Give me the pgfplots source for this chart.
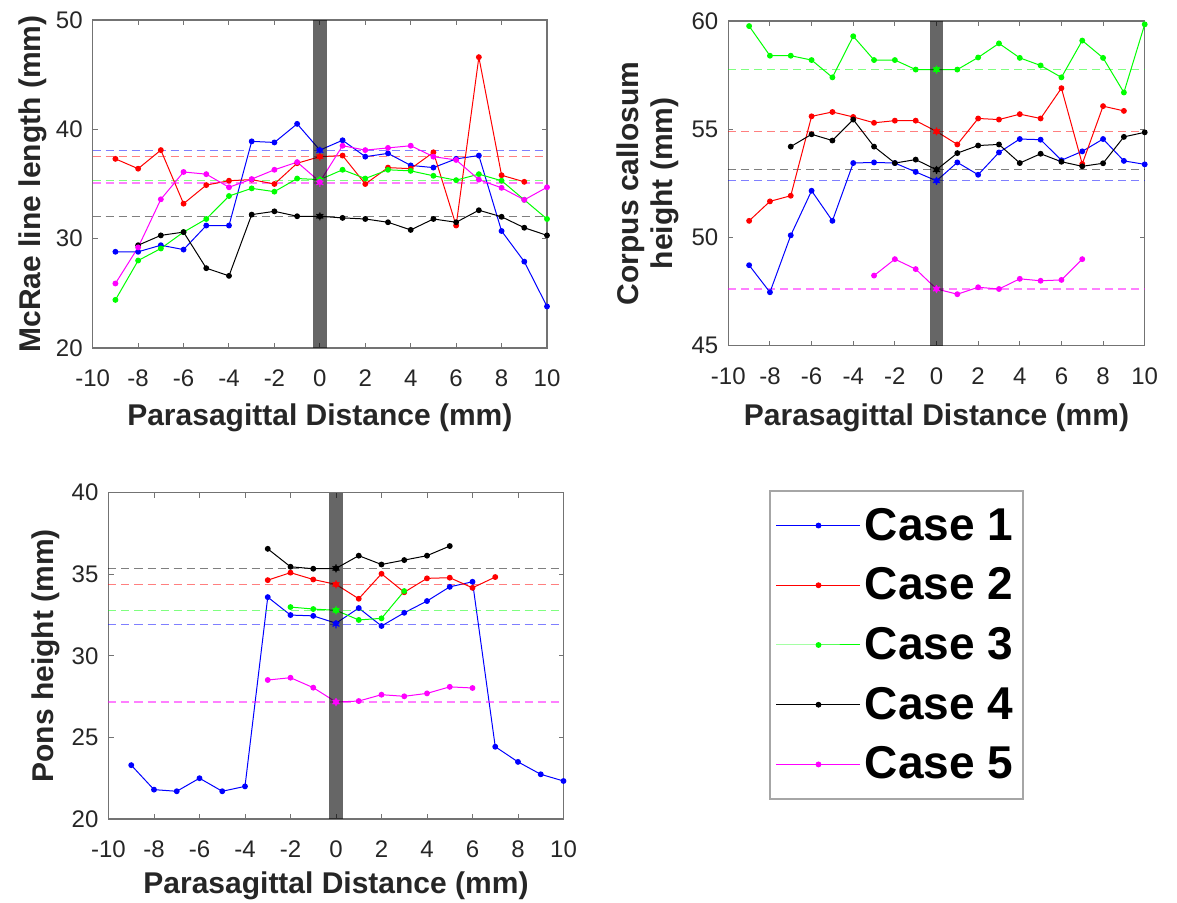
\documentclass[border=0pt]{standalone}
\usepackage{pgfplots}
\pgfplotsset{compat=1.18}
\usepackage{fontspec}
\setmainfont{Liberation Sans}
\definecolor{axgray}{gray}{0.45}
\definecolor{txt}{gray}{0.15}
\definecolor{cgreen}{rgb}{0,1,0}
\definecolor{cblue}{rgb}{0,0,1}
\definecolor{cred}{rgb}{1,0,0}
\definecolor{cmag}{rgb}{1,0,1}
\pgfplotsset{
  myax/.style={
    scale only axis,
    xmin=-10, xmax=10,
    xtick={-10,-8,...,10},
    tick align=inside,
    major tick length=2.5pt,
    axis line style={axgray, line width=0.6pt},
    tick style={axgray, line width=0.5pt},
    ticklabel style={font=\fontsize{12}{14}\selectfont, text=txt},
    /pgf/number format/assume math mode=true,
    xticklabel style={yshift=-7.5pt},
    yticklabel style={xshift=-1.5pt},
    label style={font=\fontsize{15}{17}\selectfont\bfseries, text=txt},
    xlabel={Parasagittal Distance (mm)},
    clip=false,
  },
  c1/.style={cblue, line width=0.5pt, mark=*, mark size=1.2pt},
  c2/.style={cred, line width=0.5pt, mark=*, mark size=1.2pt},
  c3/.style={cgreen, line width=0.5pt, mark=*, mark size=1.2pt},
  c4/.style={black, line width=0.5pt, mark=*, mark size=1.2pt},
  c5/.style={cmag, line width=0.5pt, mark=*, mark size=1.2pt},
  refl/.style={#1, draw opacity=0.5, dash pattern=on 4pt off 2.5pt, line width=0.6pt, forget plot, mark=asterisk, mark indices={2}, mark size=2pt, mark options={solid, draw opacity=1}},
  band/.style={fill=black, fill opacity=0.6, draw=none, forget plot},
}
\begin{document}
\begin{tikzpicture}
\path[use as bounding box] (0,0) rectangle (588.5pt,-451.5pt);

% ---------------- McRae line length ----------------
\begin{axis}[myax,
  at={(46.35pt,-174pt)}, anchor=south west,
  width=227.15pt, height=164pt,
  ymin=20, ymax=50, ytick={20,30,40,50},
  ylabel={McRae line length (mm)},
  ylabel style={at={(axis description cs:-0.1325,0.5)}, anchor=center},
  xlabel style={at={(axis description cs:0.5,-0.2348)}, anchor=base},
]
\addplot[refl=cblue] coordinates {(-10,38.05) (0,38.05) (10,38.05)};
\addplot[refl=cred] coordinates {(-10,37.5) (0,37.5) (10,37.5)};
\addplot[refl=cgreen] coordinates {(-10,35.35) (0,35.35) (10,35.35)};
\addplot[refl=black] coordinates {(-10,32.05) (0,32.05) (10,32.05)};
\addplot[refl=cmag] coordinates {(-10,35.1) (0,35.1) (10,35.1)};
\addplot[c1] coordinates {(-9,28.8) (-8,28.8) (-7,29.4) (-6,29.0) (-5,31.2) (-4,31.2) (-3,38.9) (-2,38.8) (-1,40.5) (0,38.1) (1,39.0) (2,37.5) (3,37.8) (4,36.7) (5,36.5) (6,37.3) (7,37.6) (8,30.7) (9,27.9) (10,23.8)};
\addplot[c2] coordinates {(-9,37.3) (-8,36.4) (-7,38.1) (-6,33.2) (-5,34.9) (-4,35.3) (-3,35.4) (-2,35.0) (-1,36.9) (0,37.5) (1,37.6) (2,35.0) (3,36.5) (4,36.4) (5,37.9) (6,31.2) (7,46.6) (8,35.8) (9,35.2)};
\addplot[c3] coordinates {(-9,24.4) (-8,28.0) (-7,29.1) (-6,30.6) (-5,31.8) (-4,33.9) (-3,34.6) (-2,34.3) (-1,35.5) (0,35.4) (1,36.3) (2,35.5) (3,36.3) (4,36.2) (5,35.75) (6,35.35) (7,35.9) (8,35.3) (9,33.55) (10,31.8)};
\addplot[c4] coordinates {(-8,29.4) (-7,30.3) (-6,30.6) (-5,27.3) (-4,26.6) (-3,32.2) (-2,32.5) (-1,32.05) (0,32.05) (1,31.9) (2,31.8) (3,31.5) (4,30.8) (5,31.8) (6,31.5) (7,32.6) (8,32.0) (9,31.0) (10,30.3)};
\addplot[c5] coordinates {(-9,25.9) (-8,29.2) (-7,33.6) (-6,36.1) (-5,35.9) (-4,34.7) (-3,35.45) (-2,36.3) (-1,37.0) (0,35.2) (1,38.5) (2,38.1) (3,38.3) (4,38.5) (5,37.5) (6,37.2) (7,35.4) (8,34.65) (9,33.55) (10,34.7)};
\addplot[band] coordinates {(-0.3,20) (0.3,20) (0.3,50) (-0.3,50)} -- cycle;
\end{axis}

% ---------------- Corpus callosum height ----------------
\begin{axis}[myax,
  at={(364.15pt,-172.85pt)}, anchor=south west,
  width=208.2pt, height=162.3pt,
  ymin=45, ymax=60, ytick={45,50,55,60},
  ylabel={Corpus callosum\\height (mm)},
  ylabel style={align=center, at={(axis description cs:-0.1926,0.5)}, anchor=center},
  xlabel style={at={(axis description cs:0.5,-0.2446)}, anchor=base},
]
\addplot[refl=cblue] coordinates {(-10,52.62) (0,52.62) (10,52.62)};
\addplot[refl=cred] coordinates {(-10,54.9) (0,54.9) (10,54.9)};
\addplot[refl=cgreen] coordinates {(-10,57.76) (0,57.76) (10,57.76)};
\addplot[refl=black] coordinates {(-10,53.13) (0,53.13) (10,53.13)};
\addplot[refl=cmag] coordinates {(-10,47.62) (0,47.62) (10,47.62)};
\addplot[c1] coordinates {(-9,48.72) (-8,47.47) (-7,50.1) (-6,52.16) (-5,50.77) (-4,53.44) (-3,53.47) (-2,53.44) (-1,53.03) (0,52.62) (1,53.47) (2,52.9) (3,53.93) (4,54.55) (5,54.52) (6,53.57) (7,53.98) (8,54.55) (9,53.54) (10,53.38)};
\addplot[c2] coordinates {(-9,50.77) (-8,51.67) (-7,51.93) (-6,55.6) (-5,55.8) (-4,55.57) (-3,55.3) (-2,55.4) (-1,55.4) (0,54.9) (1,54.3) (2,55.5) (3,55.45) (4,55.7) (5,55.5) (6,56.9) (7,53.4) (8,56.07) (9,55.85)};
\addplot[c3] coordinates {(-9,59.77) (-8,58.4) (-7,58.4) (-6,58.2) (-5,57.4) (-4,59.3) (-3,58.2) (-2,58.2) (-1,57.76) (0,57.76) (1,57.76) (2,58.32) (3,58.97) (4,58.3) (5,57.95) (6,57.4) (7,59.1) (8,58.3) (9,56.7) (10,59.85)};
\addplot[c4] coordinates {(-7,54.2) (-6,54.77) (-5,54.48) (-4,55.45) (-3,54.2) (-2,53.44) (-1,53.6) (0,53.13) (1,53.9) (2,54.25) (3,54.3) (4,53.44) (5,53.87) (6,53.5) (7,53.29) (8,53.43) (9,54.65) (10,54.86)};
\addplot[c5] coordinates {(-3,48.24) (-2,49.0) (-1,48.54) (0,47.62) (1,47.38) (2,47.7) (3,47.62) (4,48.09) (5,48.0) (6,48.04) (7,49.0)};
\addplot[band] coordinates {(-0.3,45) (0.3,45) (0.3,60) (-0.3,60)} -- cycle;
\end{axis}

% ---------------- Pons height ----------------
\begin{axis}[myax,
  at={(54.25pt,-409.5pt)}, anchor=south west,
  width=227.5pt, height=163.15pt,
  ymin=20, ymax=40, ytick={20,25,30,35,40},
  ylabel={Pons height (mm)},
  ylabel style={at={(axis description cs:-0.1385,0.5)}, anchor=center},
  xlabel style={at={(axis description cs:0.5,-0.2268)}, anchor=base},
  legend style={at={(axis description cs:1.4516,1.0083)}, anchor=north west,
    draw=gray!70, line width=1pt, font=\fontsize{23}{26}\selectfont\bfseries,
    text=black, legend cell align=left, row sep=8.3pt, inner xsep=3pt, inner ysep=6.5pt},
  legend image code/.code={\draw[mark repeat=2,mark phase=2,#1] plot coordinates {(0pt,0pt) (21pt,0pt) (42pt,0pt)};},
]
\addplot[c1] coordinates {(-9,23.3) (-8,21.8) (-7,21.7) (-6,22.5) (-5,21.7) (-4,22.0) (-3,33.6) (-2,32.5) (-1,32.45) (0,32.0) (1,32.93) (2,31.83) (3,32.64) (4,33.36) (5,34.23) (6,34.54) (7,24.43) (8,23.5) (9,22.74) (10,22.33)};
\addlegendentry{Case 1}
\addplot[c2] coordinates {(-3,34.64) (-2,35.1) (-1,34.68) (0,34.38) (1,33.5) (2,35.03) (3,33.9) (4,34.75) (5,34.79) (6,34.17) (7,34.83)};
\addlegendentry{Case 2}
\addplot[c3] coordinates {(-2,32.99) (-1,32.87) (0,32.79) (1,32.2) (2,32.3) (3,33.97)};
\addlegendentry{Case 3}
\addplot[c4] coordinates {(-3,36.56) (-2,35.46) (-1,35.34) (0,35.36) (1,36.14) (2,35.6) (3,35.87) (4,36.14) (5,36.73)};
\addlegendentry{Case 4}
\addplot[c5] coordinates {(-3,28.52) (-2,28.66) (-1,28.05) (0,27.17) (1,27.23) (2,27.62) (3,27.52) (4,27.7) (5,28.1) (6,28.03)};
\addlegendentry{Case 5}
\addplot[refl=cblue] coordinates {(-10,31.93) (0,31.93) (10,31.93)};
\addplot[refl=cred] coordinates {(-10,34.38) (0,34.38) (10,34.38)};
\addplot[refl=cgreen] coordinates {(-10,32.79) (0,32.79) (10,32.79)};
\addplot[refl=black] coordinates {(-10,35.36) (0,35.36) (10,35.36)};
\addplot[refl=cmag] coordinates {(-10,27.17) (0,27.17) (10,27.17)};
\addplot[band] coordinates {(-0.3,20) (0.3,20) (0.3,40) (-0.3,40)} -- cycle;
\end{axis}
\end{tikzpicture}
\end{document}
